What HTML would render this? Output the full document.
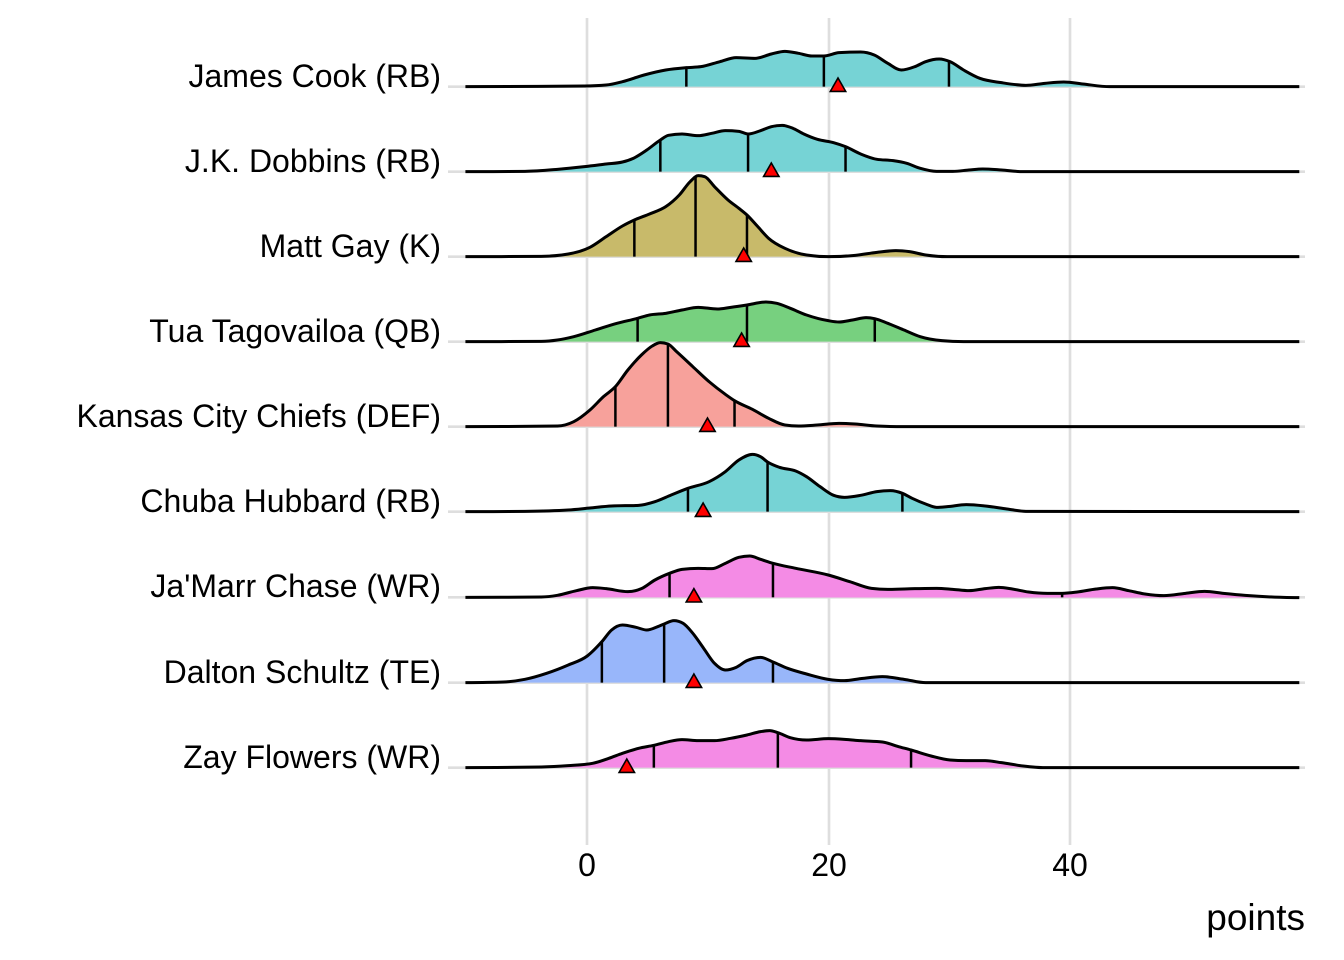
<!DOCTYPE html>
<html>
<head>
<meta charset="utf-8">
<style>
  html, body { margin: 0; padding: 0; background: #ffffff; }
  svg { display: block; }
  .lbl { font-family: "Liberation Sans", Arial, sans-serif; font-size: 32px; fill: #000; }
  .ttl { font-family: "Liberation Sans", Arial, sans-serif; font-size: 37px; fill: #000; }
  .ln { fill: none; stroke: #000; stroke-width: 3; stroke-linejoin: round; stroke-linecap: butt; }
  .q { stroke: #000; stroke-width: 2.5; }
  .tri { fill: #ff0000; stroke: #000; stroke-width: 1.6; stroke-linejoin: miter; }
</style>
</head>
<body>
<svg width="1344" height="960" viewBox="0 0 1344 960" xmlns="http://www.w3.org/2000/svg">
  <rect x="0" y="0" width="1344" height="960" fill="#ffffff"/>

  <!-- vertical gridlines -->
  <g stroke="#dedede" stroke-width="2.7">
    <line x1="587" y1="18" x2="587" y2="845"/>
    <line x1="829" y1="18" x2="829" y2="845"/>
    <line x1="1070" y1="18" x2="1070" y2="845"/>
  </g>
  <!-- horizontal gridlines -->
  <g stroke="#dedede" stroke-width="2.7">
    <line x1="448" y1="86.7" x2="1305" y2="86.7"/>
    <line x1="448" y1="171.7" x2="1305" y2="171.7"/>
    <line x1="448" y1="256.7" x2="1305" y2="256.7"/>
    <line x1="448" y1="341.7" x2="1305" y2="341.7"/>
    <line x1="448" y1="426.7" x2="1305" y2="426.7"/>
    <line x1="448" y1="511.7" x2="1305" y2="511.7"/>
    <line x1="448" y1="597.3" x2="1305" y2="597.3"/>
    <line x1="448" y1="682.7" x2="1305" y2="682.7"/>
    <line x1="448" y1="767.7" x2="1305" y2="767.7"/>
  </g>

  <!-- rows 1-3 -->
  <g transform="translate(460,10) scale(0.54148,0.33333)">
    <!-- James Cook -->
    <polygon class="sm" fill="#76d3d5" points="10,230 230,228 270,225 300,215 340,195 380,180 418,173 445,170 480,155 510,143 545,145 575,132 600,124 625,130 650,138 672,138 700,128 740,126 765,135 790,160 815,180 840,170 860,155 885,147 905,155 930,180 960,205 1000,218 1045,226 1080,220 1115,216 1150,222 1200,230 1550,230"/>
    <line class="q" vector-effect="non-scaling-stroke" x1="418" y1="173" x2="418" y2="230"/>
    <line class="q" vector-effect="non-scaling-stroke" x1="672" y1="138" x2="672" y2="230"/>
    <line class="q" vector-effect="non-scaling-stroke" x1="903" y1="154" x2="903" y2="230"/>
    <polyline class="ln sm" vector-effect="non-scaling-stroke" points="10,230 230,228 270,225 300,215 340,195 380,180 418,173 445,170 480,155 510,143 545,145 575,132 600,124 625,130 650,138 672,138 700,128 740,126 765,135 790,160 815,180 840,170 860,155 885,147 905,155 930,180 960,205 1000,218 1045,226 1080,220 1115,216 1150,222 1200,230 1550,230"/>

    <!-- J.K. Dobbins -->
    <polygon class="sm" fill="#76d3d5" points="10,485 120,484 180,478 230,470 270,462 300,456 320,445 345,420 370,390 385,376 410,372 440,377 465,370 490,362 515,364 532,372 555,362 575,350 595,346 615,355 635,372 660,388 690,398 712,410 740,432 770,448 800,452 825,460 850,475 880,484 910,484 940,480 965,477 1000,480 1040,485 1550,485"/>
    <line class="q" vector-effect="non-scaling-stroke" x1="370" y1="390" x2="370" y2="485"/>
    <line class="q" vector-effect="non-scaling-stroke" x1="532" y1="372" x2="532" y2="485"/>
    <line class="q" vector-effect="non-scaling-stroke" x1="712" y1="410" x2="712" y2="485"/>
    <polyline class="ln sm" vector-effect="non-scaling-stroke" points="10,485 120,484 180,478 230,470 270,462 300,456 320,445 345,420 370,390 385,376 410,372 440,377 465,370 490,362 515,364 532,372 555,362 575,350 595,346 615,355 635,372 660,388 690,398 712,410 740,432 770,448 800,452 825,460 850,475 880,484 910,484 940,480 965,477 1000,480 1040,485 1550,485"/>

    <!-- Matt Gay -->
    <polygon class="sm" fill="#c8ba6a" points="10,740 150,739 200,732 240,712 270,680 300,648 322,630 350,612 380,590 405,555 425,515 440,497 452,500 470,530 495,570 515,595 530,615 550,650 570,685 600,715 640,735 680,740 730,736 770,727 805,722 830,725 860,735 900,740 1550,740"/>
    <line class="q" vector-effect="non-scaling-stroke" x1="322" y1="630" x2="322" y2="740"/>
    <line class="q" vector-effect="non-scaling-stroke" x1="435" y1="499" x2="435" y2="740"/>
    <line class="q" vector-effect="non-scaling-stroke" x1="530" y1="615" x2="530" y2="740"/>
    <polyline class="ln sm" vector-effect="non-scaling-stroke" points="10,740 150,739 200,732 240,712 270,680 300,648 322,630 350,612 380,590 405,555 425,515 440,497 452,500 470,530 495,570 515,595 530,615 550,650 570,685 600,715 640,735 680,740 730,736 770,727 805,722 830,725 860,735 900,740 1550,740"/>
  </g>

  <!-- rows 4-6 -->
  <g transform="translate(460,270) scale(0.54148,0.33333)">
    <!-- Tua -->
    <polygon class="sm" fill="#77d07f" points="10,215 150,214 180,210 210,200 250,180 290,160 328,145 350,135 380,130 410,120 440,112 475,117 500,112 530,105 565,96 585,100 610,115 640,135 680,152 700,156 725,150 750,143 766,146 790,160 820,180 850,200 890,212 930,215 1550,215"/>
    <line class="q" vector-effect="non-scaling-stroke" x1="328" y1="145" x2="328" y2="215"/>
    <line class="q" vector-effect="non-scaling-stroke" x1="530" y1="105" x2="530" y2="215"/>
    <line class="q" vector-effect="non-scaling-stroke" x1="766" y1="146" x2="766" y2="215"/>
    <polyline class="ln sm" vector-effect="non-scaling-stroke" points="10,215 150,214 180,210 210,200 250,180 290,160 328,145 350,135 380,130 410,120 440,112 475,117 500,112 530,105 565,96 585,100 610,115 640,135 680,152 700,156 725,150 750,143 766,146 790,160 820,180 850,200 890,212 930,215 1550,215"/>

    <!-- Kansas City Chiefs -->
    <polygon class="sm" fill="#f7a19b" points="10,470 180,468 210,455 240,420 265,380 287,350 310,300 335,255 355,228 370,218 384,222 400,245 430,290 460,335 490,373 507,392 540,418 570,445 600,465 625,468 660,465 700,460 730,462 770,468 820,470 1550,470"/>
    <line class="q" vector-effect="non-scaling-stroke" x1="287" y1="350" x2="287" y2="470"/>
    <line class="q" vector-effect="non-scaling-stroke" x1="384" y1="222" x2="384" y2="470"/>
    <line class="q" vector-effect="non-scaling-stroke" x1="507" y1="392" x2="507" y2="470"/>
    <polyline class="ln sm" vector-effect="non-scaling-stroke" points="10,470 180,468 210,455 240,420 265,380 287,350 310,300 335,255 355,228 370,218 384,222 400,245 430,290 460,335 490,373 507,392 540,418 570,445 600,465 625,468 660,465 700,460 730,462 770,468 820,470 1550,470"/>

    <!-- Chuba Hubbard -->
    <polygon class="sm" fill="#76d3d5" points="10,725 120,724 200,720 240,714 280,708 330,706 360,695 390,675 421,655 460,635 490,605 515,570 540,553 555,560 568,576 590,592 620,603 640,620 665,650 690,676 710,682 740,676 770,665 795,662 817,670 835,685 860,702 880,712 900,710 935,704 970,708 1010,717 1045,724 1550,725"/>
    <line class="q" vector-effect="non-scaling-stroke" x1="421" y1="655" x2="421" y2="725"/>
    <line class="q" vector-effect="non-scaling-stroke" x1="568" y1="576" x2="568" y2="725"/>
    <line class="q" vector-effect="non-scaling-stroke" x1="817" y1="670" x2="817" y2="725"/>
    <polyline class="ln sm" vector-effect="non-scaling-stroke" points="10,725 120,724 200,720 240,714 280,708 330,706 360,695 390,675 421,655 460,635 490,605 515,570 540,553 555,560 568,576 590,592 620,603 640,620 665,650 690,676 710,682 740,676 770,665 795,662 817,670 835,685 860,702 880,712 900,710 935,704 970,708 1010,717 1045,724 1550,725"/>
  </g>

  <!-- rows 7-9 -->
  <g transform="translate(460,520) scale(0.54148,0.33333)">
    <!-- Ja'Marr Chase -->
    <polygon class="sm" fill="#f48be5" points="10,232 150,231 180,226 215,212 245,203 270,206 310,215 335,206 360,180 387,160 410,148 440,145 465,146 490,130 515,112 535,108 555,118 578,130 620,145 680,165 720,185 760,205 790,208 840,206 880,205 910,208 940,212 970,206 995,202 1020,207 1050,216 1085,220 1112,220 1140,216 1175,207 1205,203 1235,212 1265,222 1300,227 1340,220 1375,214 1410,220 1450,226 1500,231 1550,233"/>
    <line class="q" vector-effect="non-scaling-stroke" x1="387" y1="160" x2="387" y2="232"/>
    <line class="q" vector-effect="non-scaling-stroke" x1="578" y1="130" x2="578" y2="232"/>
    <line class="q" vector-effect="non-scaling-stroke" x1="1112" y1="220" x2="1112" y2="232"/>
    <polyline class="ln sm" vector-effect="non-scaling-stroke" points="10,232 150,231 180,226 215,212 245,203 270,206 310,215 335,206 360,180 387,160 410,148 440,145 465,146 490,130 515,112 535,108 555,118 578,130 620,145 680,165 720,185 760,205 790,208 840,206 880,205 910,208 940,212 970,206 995,202 1020,207 1050,216 1085,220 1112,220 1140,216 1175,207 1205,203 1235,212 1265,222 1300,227 1340,220 1375,214 1410,220 1450,226 1500,231 1550,233"/>

    <!-- Dalton Schultz -->
    <polygon class="sm" fill="#98b6fa" points="10,488 80,486 120,478 160,460 200,435 235,408 262,365 280,330 300,315 325,322 345,330 365,320 377,312 395,302 412,310 430,340 450,385 470,430 490,450 510,442 530,422 555,412 578,426 605,445 640,462 680,478 710,482 740,476 780,470 820,478 860,488 1550,488"/>
    <line class="q" vector-effect="non-scaling-stroke" x1="262" y1="365" x2="262" y2="488"/>
    <line class="q" vector-effect="non-scaling-stroke" x1="377" y1="312" x2="377" y2="488"/>
    <line class="q" vector-effect="non-scaling-stroke" x1="578" y1="426" x2="578" y2="488"/>
    <polyline class="ln sm" vector-effect="non-scaling-stroke" points="10,488 80,486 120,478 160,460 200,435 235,408 262,365 280,330 300,315 325,322 345,330 365,320 377,312 395,302 412,310 430,340 450,385 470,430 490,450 510,442 530,422 555,412 578,426 605,445 640,462 680,478 710,482 740,476 780,470 820,478 860,488 1550,488"/>

    <!-- Zay Flowers -->
    <polygon class="sm" fill="#f48be5" points="10,743 150,741 200,737 245,730 275,715 300,700 330,685 358,676 385,665 410,659 440,662 470,662 500,655 530,645 555,635 572,632 587,638 610,653 640,660 680,656 710,658 740,662 780,666 810,680 833,690 870,708 905,720 935,722 970,722 1000,728 1040,738 1080,743 1550,743"/>
    <line class="q" vector-effect="non-scaling-stroke" x1="358" y1="676" x2="358" y2="743"/>
    <line class="q" vector-effect="non-scaling-stroke" x1="587" y1="638" x2="587" y2="743"/>
    <line class="q" vector-effect="non-scaling-stroke" x1="833" y1="690" x2="833" y2="743"/>
    <polyline class="ln sm" vector-effect="non-scaling-stroke" points="10,743 150,741 200,737 245,730 275,715 300,700 330,685 358,676 385,665 410,659 440,662 470,662 500,655 530,645 555,635 572,632 587,638 610,653 640,660 680,656 710,658 740,662 780,666 810,680 833,690 870,708 905,720 935,722 970,722 1000,728 1040,738 1080,743 1550,743"/>
  </g>

  <!-- red triangles -->
  <g>
    <polygon class="tri" points="830.3,91.4 845.7,91.4 838,78"/>
    <polygon class="tri" points="763.6,176.4 779,176.4 771.3,163"/>
    <polygon class="tri" points="736,261.4 751.4,261.4 743.7,248"/>
    <polygon class="tri" points="733.9,346.4 749.3,346.4 741.6,333"/>
    <polygon class="tri" points="699.8,431.4 715.2,431.4 707.5,418"/>
    <polygon class="tri" points="695.4,516.4 710.8,516.4 703.1,503"/>
    <polygon class="tri" points="686.2,602 701.6,602 693.9,588.6"/>
    <polygon class="tri" points="686.2,687.4 701.6,687.4 693.9,674"/>
    <polygon class="tri" points="619.1,772.4 634.5,772.4 626.8,759"/>
  </g>

  <!-- y labels -->
  <g class="lbl" text-anchor="end">
    <text x="441" y="87">James Cook (RB)</text>
    <text x="441" y="172">J.K. Dobbins (RB)</text>
    <text x="441" y="257">Matt Gay (K)</text>
    <text x="441" y="342">Tua Tagovailoa (QB)</text>
    <text x="441" y="427">Kansas City Chiefs (DEF)</text>
    <text x="441" y="512">Chuba Hubbard (RB)</text>
    <text x="441" y="597">Ja'Marr Chase (WR)</text>
    <text x="441" y="683">Dalton Schultz (TE)</text>
    <text x="441" y="768">Zay Flowers (WR)</text>
  </g>

  <!-- x tick labels -->
  <g class="lbl" text-anchor="middle">
    <text x="587" y="876">0</text>
    <text x="829" y="876">20</text>
    <text x="1070" y="876">40</text>
  </g>

  <!-- x axis title -->
  <text class="ttl" x="1305" y="930" text-anchor="end">points</text>
</svg>
<script>
(function () {
  var NS = "http://www.w3.org/2000/svg";
  function sign(v) { return v < 0 ? -1 : (v > 0 ? 1 : 0); }
  var els = document.querySelectorAll(".sm");
  for (var k = 0; k < els.length; k++) {
    var el = els[k];
    var raw = el.getAttribute("points").trim().split(/\s+/);
    var p = raw.map(function (s) { var a = s.split(","); return [parseFloat(a[0]), parseFloat(a[1])]; });
    var n = p.length;
    var h = [], s = [];
    for (var i = 0; i < n - 1; i++) {
      h[i] = p[i + 1][0] - p[i][0];
      s[i] = (p[i + 1][1] - p[i][1]) / h[i];
    }
    var m = [];
    m[0] = s[0];
    m[n - 1] = s[n - 2];
    for (var i = 1; i < n - 1; i++) {
      var s0 = s[i - 1], s1 = s[i], h0 = h[i - 1], h1 = h[i];
      var pp = (s0 * h1 + s1 * h0) / (h0 + h1);
      m[i] = (sign(s0) + sign(s1)) * Math.min(Math.abs(s0), Math.abs(s1), 0.5 * Math.abs(pp)) || 0;
    }
    m[0] = (3 * s[0] - m[1]) / 2; if (sign(m[0]) !== sign(s[0])) m[0] = 0;
    m[n - 1] = (3 * s[n - 2] - m[n - 2]) / 2; if (sign(m[n - 1]) !== sign(s[n - 2])) m[n - 1] = 0;
    var d = "M" + p[0][0] + "," + p[0][1];
    for (var i = 0; i < n - 1; i++) {
      var dx = h[i] / 3;
      var c1x = p[i][0] + dx, c1y = p[i][1] + m[i] * dx;
      var c2x = p[i + 1][0] - dx, c2y = p[i + 1][1] - m[i + 1] * dx;
      d += " C" + c1x.toFixed(2) + "," + c1y.toFixed(2) + " " + c2x.toFixed(2) + "," + c2y.toFixed(2) + " " + p[i + 1][0] + "," + p[i + 1][1];
    }
    if (el.tagName.toLowerCase() === "polygon") d += " Z";
    var path = document.createElementNS(NS, "path");
    for (var j = 0; j < el.attributes.length; j++) {
      var at = el.attributes[j];
      if (at.name !== "points") path.setAttribute(at.name, at.value);
    }
    path.setAttribute("d", d);
    el.parentNode.replaceChild(path, el);
  }
})();
</script>
</body>
</html>
